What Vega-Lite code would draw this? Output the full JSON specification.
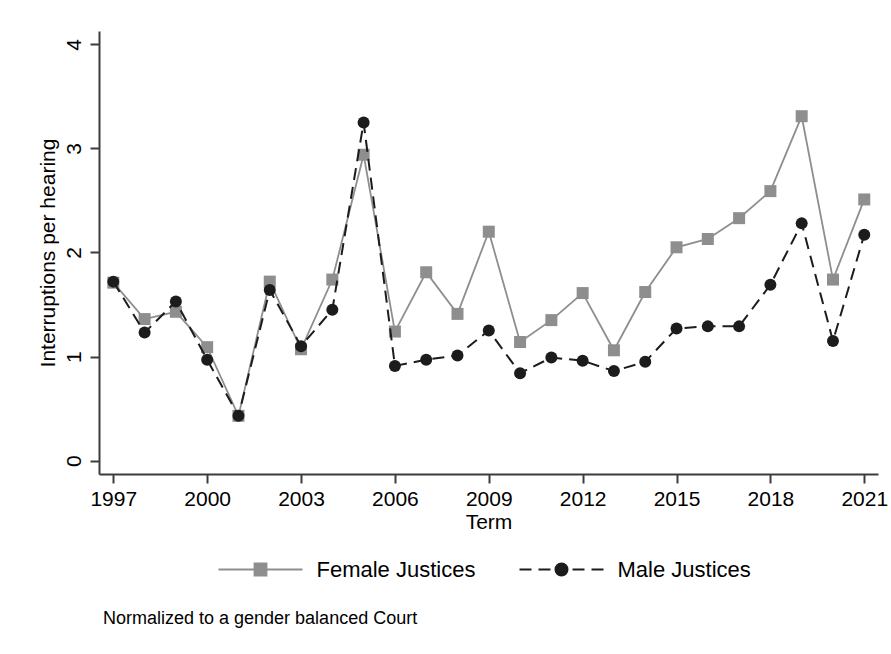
{
  "$schema": "https://vega.github.io/schema/vega-lite/v6.json",
  "width": 779,
  "height": 443,
  "autosize": {"type": "none"},
  "padding": {"left": 99, "top": 31, "right": 13, "bottom": 180},
  "background": "white",
  "config": {
    "view": {"stroke": null},
    "font": "Liberation Sans"
  },
  "title": {
    "text": "Normalized to a gender balanced Court",
    "orient": "bottom",
    "anchor": "start",
    "frame": "group",
    "fontSize": 18,
    "fontWeight": "normal",
    "color": "black",
    "offset": 29,
    "dx": 4
  },
  "data": {
    "values": [
      {"term": 1997, "group": "Female Justices", "rate": 1.71},
      {"term": 1998, "group": "Female Justices", "rate": 1.36},
      {"term": 1999, "group": "Female Justices", "rate": 1.43},
      {"term": 2000, "group": "Female Justices", "rate": 1.09},
      {"term": 2001, "group": "Female Justices", "rate": 0.43},
      {"term": 2002, "group": "Female Justices", "rate": 1.72},
      {"term": 2003, "group": "Female Justices", "rate": 1.07},
      {"term": 2004, "group": "Female Justices", "rate": 1.74},
      {"term": 2005, "group": "Female Justices", "rate": 2.94},
      {"term": 2006, "group": "Female Justices", "rate": 1.24},
      {"term": 2007, "group": "Female Justices", "rate": 1.81},
      {"term": 2008, "group": "Female Justices", "rate": 1.41},
      {"term": 2009, "group": "Female Justices", "rate": 2.2},
      {"term": 2010, "group": "Female Justices", "rate": 1.14},
      {"term": 2011, "group": "Female Justices", "rate": 1.35},
      {"term": 2012, "group": "Female Justices", "rate": 1.61},
      {"term": 2013, "group": "Female Justices", "rate": 1.06},
      {"term": 2014, "group": "Female Justices", "rate": 1.62},
      {"term": 2015, "group": "Female Justices", "rate": 2.05},
      {"term": 2016, "group": "Female Justices", "rate": 2.13},
      {"term": 2017, "group": "Female Justices", "rate": 2.33},
      {"term": 2018, "group": "Female Justices", "rate": 2.59},
      {"term": 2019, "group": "Female Justices", "rate": 3.31},
      {"term": 2020, "group": "Female Justices", "rate": 1.74},
      {"term": 2021, "group": "Female Justices", "rate": 2.51},
      {"term": 1997, "group": "Male Justices", "rate": 1.72},
      {"term": 1998, "group": "Male Justices", "rate": 1.23},
      {"term": 1999, "group": "Male Justices", "rate": 1.53},
      {"term": 2000, "group": "Male Justices", "rate": 0.97},
      {"term": 2001, "group": "Male Justices", "rate": 0.43},
      {"term": 2002, "group": "Male Justices", "rate": 1.64},
      {"term": 2003, "group": "Male Justices", "rate": 1.1},
      {"term": 2004, "group": "Male Justices", "rate": 1.45},
      {"term": 2005, "group": "Male Justices", "rate": 3.25},
      {"term": 2006, "group": "Male Justices", "rate": 0.91},
      {"term": 2007, "group": "Male Justices", "rate": 0.97},
      {"term": 2008, "group": "Male Justices", "rate": 1.01},
      {"term": 2009, "group": "Male Justices", "rate": 1.25},
      {"term": 2010, "group": "Male Justices", "rate": 0.84},
      {"term": 2011, "group": "Male Justices", "rate": 0.99},
      {"term": 2012, "group": "Male Justices", "rate": 0.96},
      {"term": 2013, "group": "Male Justices", "rate": 0.86},
      {"term": 2014, "group": "Male Justices", "rate": 0.95},
      {"term": 2015, "group": "Male Justices", "rate": 1.27},
      {"term": 2016, "group": "Male Justices", "rate": 1.29},
      {"term": 2017, "group": "Male Justices", "rate": 1.29},
      {"term": 2018, "group": "Male Justices", "rate": 1.69},
      {"term": 2019, "group": "Male Justices", "rate": 2.28},
      {"term": 2020, "group": "Male Justices", "rate": 1.15},
      {"term": 2021, "group": "Male Justices", "rate": 2.17}
    ]
  },
  "encoding": {
    "x": {
      "field": "term",
      "type": "quantitative",
      "scale": {"domain": [1996.543, 2021.439], "nice": false, "zero": false},
      "axis": {
        "title": "Term",
        "values": [1997, 2000, 2003, 2006, 2009, 2012, 2015, 2018, 2021],
        "format": "d",
        "grid": false,
        "labelFontSize": 21,
        "labelColor": "black",
        "labelPadding": 5,
        "labelFlush": false,
        "labelOverlap": false,
        "tickSize": 9,
        "tickWidth": 2,
        "tickColor": "#3c3c3c",
        "domainColor": "#3c3c3c",
        "domainWidth": 2,
        "titleFontSize": 21,
        "titleFontWeight": "normal",
        "titleColor": "black",
        "titlePadding": 2
      }
    },
    "y": {
      "field": "rate",
      "type": "quantitative",
      "scale": {"domain": [-0.129, 4.129], "nice": false, "zero": false},
      "axis": {
        "title": "Interruptions per hearing",
        "values": [0, 1, 2, 3, 4],
        "grid": false,
        "labelFontSize": 21,
        "labelColor": "black",
        "labelAngle": 270,
        "labelAlign": "center",
        "labelBaseline": "alphabetic",
        "labelPadding": 10,
        "tickSize": 9,
        "tickWidth": 2,
        "tickColor": "#3c3c3c",
        "domainColor": "#3c3c3c",
        "domainWidth": 2,
        "titleFontSize": 21,
        "titleFontWeight": "normal",
        "titleColor": "black",
        "titlePadding": 5
      }
    },
    "color": {
      "field": "group",
      "type": "nominal",
      "scale": {
        "domain": ["Female Justices", "Male Justices"],
        "range": ["#8e8e8e", "#1c1c1c"]
      },
      "legend": {
        "title": null,
        "orient": "none",
        "direction": "horizontal",
        "legendX": 150.5,
        "legendY": 527.5,
        "padding": 0,
        "symbolSize": 7056,
        "labelFontSize": 22,
        "labelColor": "black",
        "labelOffset": 45,
        "labelLimit": 400,
        "columnPadding": 40,
        "encode": {
          "symbols": {
            "update": {
              "shape": {"signal": "datum.value === 'Female Justices' ? 'M-1,0H1M-0.1429,-0.1429H0.1429V0.1429H-0.1429Z' : 'M-1,0H-0.714M-0.548,0H-0.262M0.262,0H0.548M0.714,0H1M0.1429,0A0.1429,0.1429,0,1,1,-0.1429,0A0.1429,0.1429,0,1,1,0.1429,0Z'"},
              "fill": {"signal": "scale('color', datum.value)"},
              "stroke": {"signal": "scale('color', datum.value)"},
              "strokeWidth": {"signal": "datum.value === 'Female Justices' ? 1.8 : 2"},
              "opacity": {"value": 1},
              "fillOpacity": {"value": 1},
              "strokeOpacity": {"value": 1}
            }
          }
        }
      }
    }
  },
  "layer": [
    {
      "transform": [{"filter": "datum.group === 'Female Justices'"}],
      "mark": {"type": "line", "strokeWidth": 1.8}
    },
    {
      "transform": [{"filter": "datum.group === 'Female Justices'"}],
      "mark": {"type": "point", "shape": "square", "filled": true, "size": 144, "opacity": 1}
    },
    {
      "transform": [{"filter": "datum.group === 'Male Justices'"}],
      "mark": {"type": "line", "strokeWidth": 2, "strokeDash": [12, 7]}
    },
    {
      "transform": [{"filter": "datum.group === 'Male Justices'"}],
      "mark": {"type": "point", "shape": "circle", "filled": true, "size": 144, "opacity": 1}
    }
  ]
}
